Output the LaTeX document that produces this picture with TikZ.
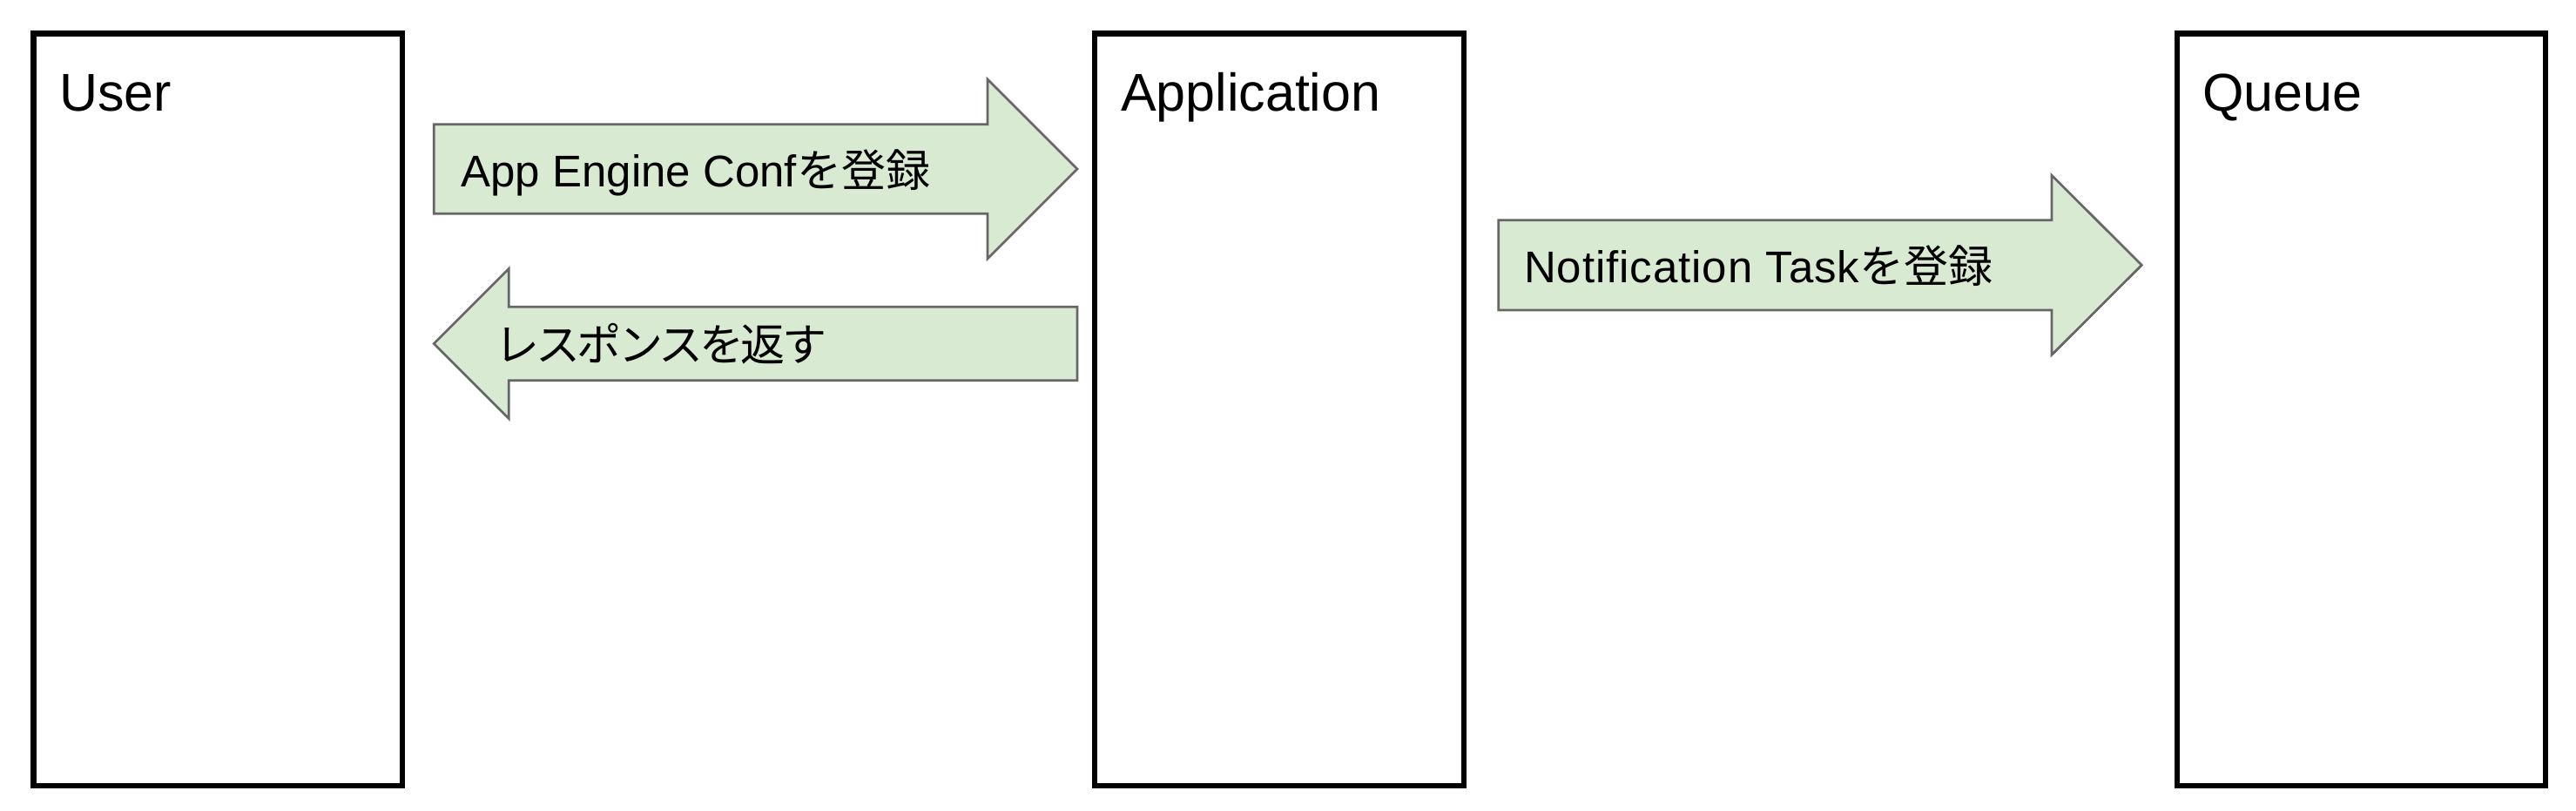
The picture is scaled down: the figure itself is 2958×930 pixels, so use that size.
\documentclass[tikz,border=0pt]{standalone}
\usepackage{fontspec}
\setmainfont{Liberation Sans}[Ligatures=NoCommon]
\newfontfamily\wide{Liberation Sans}[Ligatures=NoCommon,LetterSpace=1.8]
\newfontfamily\jp{Noto Sans CJK JP}
\newfontfamily\jpnarrow{Noto Sans CJK JP}[LetterSpace=-7.3]
\definecolor{arrowfill}{HTML}{D9EAD3}
\definecolor{arrowline}{HTML}{666666}
\begin{document}
\begin{tikzpicture}[x=1pt,y=-1pt,
  lane/.style={draw=black,line width=6.3pt,rectangle,minimum width=423.5pt,minimum height=863.5pt,inner sep=0pt,outer sep=0pt},
  lanetitle/.style={anchor=base west,inner sep=0pt,font=\fontsize{61pt}{70pt}\selectfont},
  blockarrow/.style={fill=arrowfill,draw=arrowline,line width=2.7pt,line join=miter},
  arrowtext/.style={anchor=base west,inner sep=0pt,font=\fontsize{51pt}{60pt}\selectfont}]
\useasboundingbox (0,0) rectangle (2958,930);
\fill[white] (0,0) rectangle (2958,930);
% lanes
\node[lane] (user)  at (250.25,470.25) {};
\node[lane] (app)   at (1469.05,470.25) {};
\node[lane] (queue) at (2711.45,470.25) {};
\node[lanetitle] (usert)  at (68,127.5) {User};
\node[lanetitle] (appt)   at (1286.8,127.5) {Application};
\node[lanetitle] (queuet) at (2529.2,127.5) {Queue};
% arrow 1: User -> Application
\draw[blockarrow] (498.3,142.7) -- (1134,142.7) -- (1134,91) -- (1237,194) -- (1134,297) -- (1134,245.3) -- (498.3,245.3) -- cycle;
\node[arrowtext] (a1) at (529.3,214) {App Engine Conf{\jp を登録}};
% arrow 2: Application -> User
\draw[blockarrow] (1237,352.3) -- (584.3,352.3) -- (584.3,308.5) -- (498.3,394.5) -- (584.3,480.5) -- (584.3,436.7) -- (1237,436.7) -- cycle;
\node[arrowtext] (a2) at (568,414) {\jpnarrow レスポンスを返す};
% arrow 3: Application -> Queue
\draw[blockarrow] (1720.7,252.7) -- (2356,252.7) -- (2356,201.3) -- (2459.3,304.3) -- (2356,407.3) -- (2356,355.9) -- (1720.7,355.9) -- cycle;
\node[arrowtext] (a3) at (1750,324) {{\wide Notification Task}{\jp を登録}};
\end{tikzpicture}
\end{document}
